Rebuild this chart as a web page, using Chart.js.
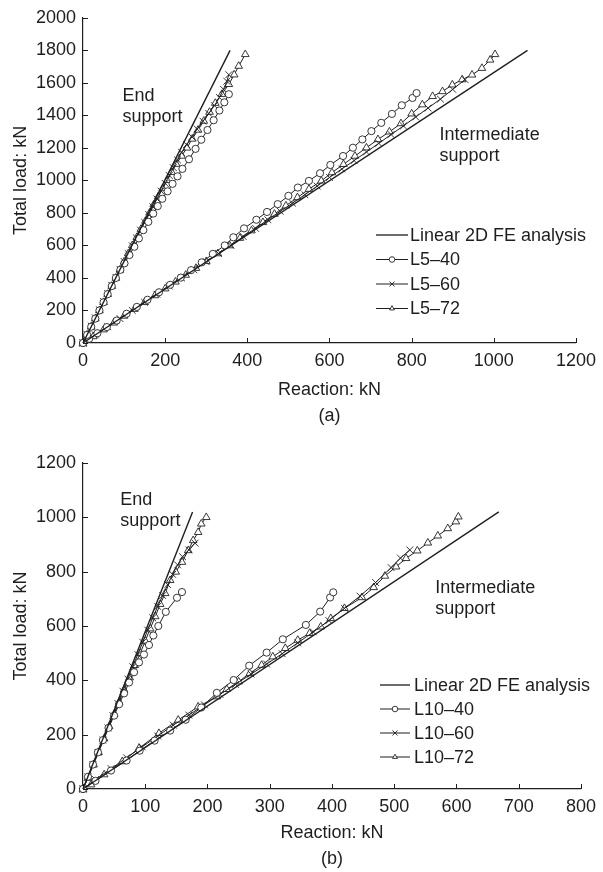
<!DOCTYPE html>
<html>
<head>
<meta charset="utf-8">
<script src="https://cdn.jsdelivr.net/npm/chart.js@4.4.1/dist/chart.umd.min.js"></script>
<style>
  html, body { margin: 0; padding: 0; background: #fff; }
  #wrap { position: relative; width: 603px; height: 872px; }
  canvas { position: absolute; left: 0; }
  #chart-a { top: 0; }
  #chart-b { top: 430px; }
</style>
</head>
<body>
<div id="wrap">
  <canvas id="chart-a" width="603" height="430"></canvas>
  <canvas id="chart-b" width="603" height="442"></canvas>
</div>
<script>
// (a) L5 girders, [reaction kN, total load kN]
const aFeEnd = [[0, 0], [358, 1800]];
const aFeInt = [[0, 0], [1082, 1800]];
const aL540End = [[0, 0], [10, 50], [20, 100], [30, 150], [40, 200], [50, 250], [60, 300], [70, 350], [80, 400], [91, 450], [101, 490], [113, 541], [125, 592], [136, 643], [147, 694], [159, 745], [171, 796], [182, 842], [193, 887], [206, 933], [218, 979], [230, 1025], [242, 1071], [258, 1130], [274, 1194], [288, 1250], [303, 1310], [318, 1370], [332, 1430], [344, 1480], [355, 1530]];
const aL560End = [[0, 0], [10, 52], [20, 104], [30, 155], [40, 205], [50, 255], [60, 305], [70, 355], [80, 404], [90, 453], [100, 502], [110, 550], [120, 598], [130, 646], [140, 694], [150, 742], [160, 790], [170, 838], [180, 886], [190, 934], [200, 982], [210, 1030], [220, 1078], [230, 1126], [240, 1172], [252, 1220], [265, 1268], [278, 1316], [292, 1364], [306, 1412], [320, 1460], [332, 1510], [342, 1560], [350, 1610], [355, 1650]];
const aL572End = [[0, 0], [10, 50], [20, 100], [30, 150], [40, 200], [50, 250], [60, 300], [70, 350], [80, 400], [90, 450], [100, 500], [110, 550], [120, 600], [131, 650], [141, 700], [152, 750], [162, 800], [172, 850], [183, 900], [194, 950], [205, 1000], [216, 1050], [227, 1100], [240, 1150], [253, 1200], [266, 1255], [280, 1310], [294, 1365], [308, 1420], [322, 1475], [338, 1530], [355, 1591], [368, 1650], [379, 1703], [395, 1775]];
const aL540Int = [[0, 0], [15, 26], [35, 60], [58, 98], [82, 138], [106, 180], [131, 222], [157, 266], [185, 312], [212, 358], [238, 402], [263, 448], [289, 496], [316, 548], [345, 600], [366, 650], [392, 705], [422, 758], [448, 806], [474, 854], [500, 905], [523, 956], [550, 997], [577, 1044], [602, 1095], [633, 1150], [657, 1201], [680, 1252], [702, 1303], [726, 1354], [752, 1409], [776, 1462], [802, 1507], [812, 1537]];
const aL560Int = [[0, 0], [30, 50], [60, 100], [90, 150], [120, 200], [150, 250], [180, 300], [210, 350], [240, 400], [270, 450], [300, 500], [330, 550], [360, 600], [390, 655], [420, 705], [450, 758], [480, 810], [510, 860], [540, 912], [570, 965], [600, 1018], [630, 1070], [660, 1122], [690, 1175], [720, 1228], [750, 1282], [780, 1335], [810, 1390], [840, 1445], [870, 1500], [900, 1560], [930, 1620]];
const aL572Int = [[0, 0], [25, 40], [50, 82], [75, 124], [100, 166], [125, 208], [150, 250], [175, 292], [200, 334], [225, 376], [250, 418], [275, 460], [300, 502], [328, 550], [357, 599], [382, 645], [410, 691], [438, 742], [466, 793], [494, 844], [522, 895], [550, 946], [580, 997], [606, 1048], [634, 1099], [662, 1150], [690, 1201], [718, 1252], [746, 1299], [774, 1350], [800, 1410], [826, 1466], [851, 1517], [875, 1547], [899, 1588], [923, 1620], [947, 1649], [971, 1690], [991, 1741], [1003, 1775]];

// (b) L10 girders
const bFeEnd = [[0, 0], [176, 1020]];
const bFeInt = [[0, 0], [668, 1020]];
const bL1040End = [[0, 0], [8, 45], [16, 90], [24, 135], [32, 180], [41, 225], [50, 270], [58, 312], [66, 352], [74, 392], [82, 430], [90, 466], [98, 495], [106, 530], [113, 565], [121, 600], [133, 652], [151, 704], [159, 725]];
const bL1060End = [[0, 0], [8, 45], [16, 90], [24, 135], [32, 180], [40, 225], [48, 270], [56, 315], [64, 360], [72, 405], [80, 450], [88, 495], [96, 540], [104, 585], [112, 630], [120, 672], [128, 712], [136, 752], [144, 790], [152, 825], [160, 855], [170, 880], [180, 905]];
const bL1072End = [[0, 0], [8, 40], [17, 90], [25, 135], [34, 185], [42, 230], [50, 275], [58, 320], [66, 365], [75, 410], [83, 455], [92, 500], [100, 545], [108, 590], [116, 635], [124, 680], [132, 720], [140, 768], [149, 799], [159, 835], [169, 878], [177, 915], [185, 945], [190, 976], [198, 1000]];
const bL1040Int = [[0, 0], [20, 30], [45, 68], [70, 105], [91, 141], [115, 178], [140, 215], [165, 255], [190, 300], [215, 354], [242, 401], [267, 454], [295, 502], [321, 551], [358, 604], [381, 653], [397, 705], [402, 724]];
const bL1060Int = [[0, 0], [20, 35], [45, 75], [70, 115], [95, 155], [120, 195], [145, 235], [170, 272], [195, 310], [220, 348], [245, 385], [270, 423], [295, 460], [320, 498], [345, 538], [370, 578], [395, 620], [420, 665], [445, 710], [470, 760], [495, 815], [510, 850], [525, 880]];
const bL1072Int = [[0, 0], [13, 16], [34, 53], [63, 101], [90, 150], [122, 205], [153, 254], [185, 303], [215, 340], [231, 367], [250, 395], [268, 426], [287, 456], [305, 487], [325, 518], [345, 548], [364, 573], [382, 597], [398, 628], [420, 665], [448, 705], [467, 742], [485, 784], [503, 818], [519, 849], [537, 877], [554, 906], [570, 932], [586, 959], [599, 984], [603, 1002]];

const FONT = "'Liberation Sans', Arial, sans-serif";
const INK = '#1e1e1e';

function series(pts, style, width) {
  const radius = { circle: 3.6, crossRot: 4.8, triangle: 4.4 };
  return {
    data: pts.map((p) => ({ x: p[0], y: p[1] })),
    showLine: true,
    borderColor: INK,
    borderWidth: width || 1,
    pointStyle: style || 'circle',
    pointRadius: style ? radius[style] : 0,
    pointBorderColor: '#222',
    pointBackgroundColor: '#fff',
    pointBorderWidth: 0.9,
    clip: false,
  };
}

const extras = {
  id: 'extras',
  afterDraw(chart, args, opts) {
    const { ctx, chartArea: a, scales: { x, y } } = chart;
    ctx.save();
    ctx.strokeStyle = INK;
    ctx.lineWidth = 1;
    // inward tick marks
    x.ticks.forEach((t) => {
      const px = Math.round(x.getPixelForValue(t.value)) + 0.5;
      ctx.beginPath();
      ctx.moveTo(px, a.bottom);
      ctx.lineTo(px, a.bottom - 5);
      ctx.stroke();
    });
    y.ticks.forEach((t) => {
      const py = Math.round(y.getPixelForValue(t.value)) + 0.5;
      ctx.beginPath();
      ctx.moveTo(a.left, py);
      ctx.lineTo(a.left + 5, py);
      ctx.stroke();
    });

    ctx.fillStyle = INK;
    ctx.font = '18px ' + FONT;
    ctx.textBaseline = 'alphabetic';
    ctx.textAlign = 'left';
    opts.notes.forEach((n) => {
      const px = x.getPixelForValue(n.at[0]);
      const py = y.getPixelForValue(n.at[1]);
      n.lines.forEach((s, i) => ctx.fillText(s, px, py + i * 21));
    });

    // legend
    const lg = opts.legend;
    lg.items.forEach((it, i) => {
      const ly = lg.y + i * lg.dy;
      ctx.strokeStyle = INK;
      ctx.lineWidth = it.style ? 1 : 1.3;
      ctx.beginPath();
      ctx.moveTo(lg.x, ly);
      ctx.lineTo(lg.x + lg.len, ly);
      ctx.stroke();
      if (it.style) {
        ctx.strokeStyle = '#222';
        ctx.fillStyle = '#fff';
        ctx.lineWidth = 0.9;
        const r = it.style === 'crossRot' ? 3.6 : 2.8;
        Chart.helpers.drawPoint(ctx, { pointStyle: it.style, radius: r, borderWidth: 0.9, rotation: 0 }, lg.x + lg.len / 2, ly);
      }
      ctx.fillStyle = INK;
      ctx.textBaseline = 'middle';
      ctx.fillText(it.label, lg.x + lg.len + lg.gap, ly + 1);
    });
    ctx.restore();
  },
};

function makeChart(id, cfg) {
  const tickFont = { family: FONT, size: 18 };
  return new Chart(document.getElementById(id), {
    type: 'scatter',
    data: { datasets: cfg.datasets },
    options: {
      responsive: false,
      animation: false,
      devicePixelRatio: 1,
      layout: { padding: cfg.padding },
      plugins: {
        legend: { display: false },
        tooltip: { enabled: false },
        extras: { legend: cfg.legend, notes: cfg.notes },
      },
      scales: {
        x: {
          type: 'linear',
          min: 0,
          max: cfg.xMax,
          ticks: { stepSize: cfg.xStep, padding: 7, color: INK, font: tickFont, callback: (v) => String(v) },
          grid: { display: false, drawTicks: false },
          border: { display: true, color: INK, width: 1.2 },
          title: {
            display: true,
            text: ['Reaction: kN', cfg.tag],
            color: INK,
            font: { family: FONT, size: 18, lineHeight: 1.45 },
            padding: { top: 0, bottom: cfg.tagPad },
          },
          afterFit: (s) => { s.height = cfg.xHeight; },
        },
        y: {
          type: 'linear',
          min: 0,
          max: cfg.yMax,
          ticks: { stepSize: 200, padding: 7, color: INK, font: tickFont, callback: (v) => String(v) },
          grid: { display: false, drawTicks: false },
          border: { display: true, color: INK, width: 1.2 },
          title: {
            display: true,
            text: 'Total load: kN',
            color: INK,
            font: { family: FONT, size: 18 },
            padding: { top: 10, bottom: 0 },
          },
          afterFit: (s) => { s.width = 83; },
        },
      },
    },
    plugins: [extras],
  });
}

makeChart('chart-a', {
  datasets: [
    series(aFeEnd, false, 1.4), series(aFeInt, false, 1.4),
    series(aL540End, 'circle'), series(aL560End, 'crossRot'), series(aL572End, 'triangle'),
    series(aL540Int, 'circle'), series(aL560Int, 'crossRot'), series(aL572Int, 'triangle'),
  ],
  padding: { top: 16, right: 21, bottom: 0, left: 0 },
  xMax: 1200, xStep: 200, yMax: 2000, xHeight: 87, tag: '(a)', tagPad: 1,
  notes: [
    { at: [96, 1486], lines: ['End', 'support'] },
    { at: [868, 1248], lines: ['Intermediate', 'support'] },
  ],
  legend: {
    x: 376, y: 235, dy: 24.5, len: 32, gap: 2,
    items: [
      { label: 'Linear 2D FE analysis', style: false },
      { label: 'L5–40', style: 'circle' },
      { label: 'L5–60', style: 'crossRot' },
      { label: 'L5–72', style: 'triangle' },
    ],
  },
});

makeChart('chart-b', {
  datasets: [
    series(bFeEnd, false, 1.4), series(bFeInt, false, 1.4),
    series(bL1040End, 'circle'), series(bL1060End, 'crossRot'), series(bL1072End, 'triangle'),
    series(bL1040Int, 'circle'), series(bL1060Int, 'crossRot'), series(bL1072Int, 'triangle'),
  ],
  padding: { top: 33, right: 17, bottom: 0, left: 0 },
  xMax: 800, xStep: 100, yMax: 1200, xHeight: 83, tag: '(b)', tagPad: 0,
  notes: [
    { at: [60, 1045], lines: ['End', 'support'] },
    { at: [566, 721], lines: ['Intermediate', 'support'] },
  ],
  legend: {
    x: 380, y: 255, dy: 24, len: 30, gap: 4,
    items: [
      { label: 'Linear 2D FE analysis', style: false },
      { label: 'L10–40', style: 'circle' },
      { label: 'L10–60', style: 'crossRot' },
      { label: 'L10–72', style: 'triangle' },
    ],
  },
});
</script>
</body>
</html>
